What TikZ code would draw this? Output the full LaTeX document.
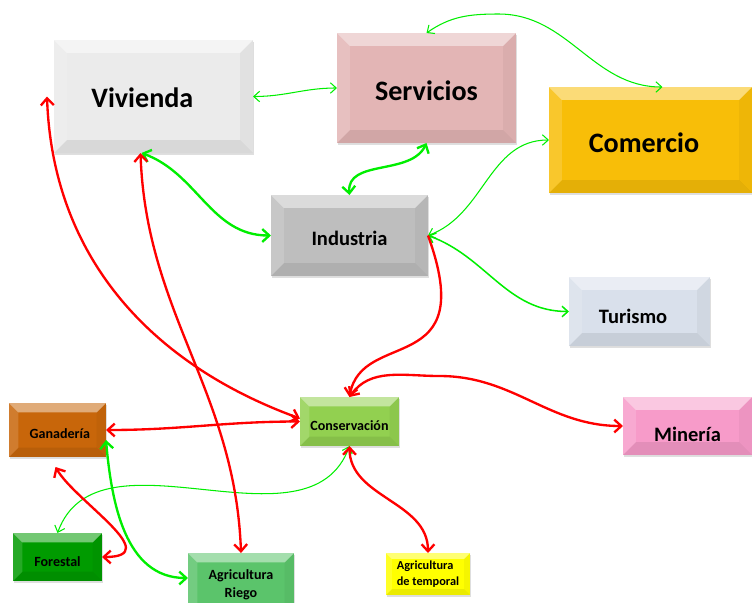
\documentclass[tikz,border=0pt]{standalone}
\usepackage{fontspec}
\setmainfont{Carlito}
\usetikzlibrary{calc, shapes, shadows, positioning, arrows.meta}
\usepackage{xcolor}
\definecolor{vivfill}{HTML}{EBEBEB}
\definecolor{servfill}{HTML}{E3B5B5}
\definecolor{comfill}{HTML}{F8BE08}
\definecolor{indfill}{HTML}{BEBEBE}
\definecolor{turfill}{HTML}{D9E0EB}
\definecolor{consfill}{HTML}{92D050}
\definecolor{minfill}{HTML}{F79BC9}
\definecolor{ganfill}{HTML}{C8660A}
\definecolor{forfill}{HTML}{009B00}
\definecolor{agrfill}{HTML}{5BC46B}
\definecolor{temfill}{HTML}{FFFF00}
\definecolor{linkgreen}{HTML}{00EE00}
\definecolor{linkred}{HTML}{FF0000}

\begin{document}
\begin{tikzpicture}[x=0.03cm, y=0.03cm, bevel/.initial=11pt,
		box/.style={rectangle, fill=#1, inner sep=1pt, outer sep=0pt, text=black, text depth=0pt,
			drop shadow={shadow xshift=1.2pt, shadow yshift=-1.8pt, opacity=.25},
			path picture={
				\def\bv{\pgfkeysvalueof{/tikz/bevel}}
				\path (path picture bounding box.north west) coordinate (bnw)
					(path picture bounding box.south east) coordinate (bse);
				\path (bnw) ++(\bv,-\bv) coordinate (inw) (bse) ++(-\bv,\bv) coordinate (ise);
				\fill[white, opacity=.45] (bnw) -- (bse |- bnw) -- (ise |- inw) -- (inw) -- cycle;
				\fill[white, opacity=.15] (bnw) -- (inw) -- (inw |- ise) -- (bnw |- bse) -- cycle;
				\fill[black, opacity=.08] (bnw |- bse) -- (inw |- ise) -- (ise) -- (bse) -- cycle;
				\fill[black, opacity=.04] (bse |- bnw) -- (ise |- inw) -- (ise) -- (bse) -- cycle;
			}},
		sz/.style 2 args={minimum width=#1*0.03cm, minimum height=#2*0.03cm},
		big/.style={font=\bfseries\fontsize{24}{28}\selectfont},
		mid/.style={font=\bfseries\fontsize{17.5}{21}\selectfont},
		small/.style={font=\bfseries\fontsize{12}{16}\selectfont, bevel=8pt},
		tiny/.style={font=\bfseries\fontsize{10.5}{13.5}\selectfont, bevel=5pt},
		gthin/.style={draw=linkgreen, line width=.9pt, >={Straight Barb[length=5pt,width=9pt]}, <->},
		gthick/.style={draw=linkgreen, line width=2pt, >={Straight Barb[length=6pt,width=11pt]}, <->},
		rthick/.style={draw=linkred, line width=2pt, >={Straight Barb[length=6pt,width=11pt]}, <->}]
	\useasboundingbox (0,0) rectangle (752,-602);
	
	\coordinate (cviv) at (153.5,-96.5);
	\coordinate (cserv) at (426.5,-88);
	\coordinate (ccom) at (650.5,-140);
	\coordinate (cind) at (349.5,-235.5);
	\coordinate (ctur) at (639.5,-311.5);
	\coordinate (ccons) at (349.5,-421.5);
	\coordinate (cmin) at (687.5,-426);
	\coordinate (cgan) at (57.5,-430);
	\coordinate (cfor) at (57.5,-557);
	\coordinate (cagr) at (241,-585);
	\coordinate (ctem) at (428,-574);
	
	\node[box=vivfill, sz={199}{113}, big, text height=18pt] (viv) at (cviv) {Vivienda\hspace*{19pt}};
	\node[box=servfill, sz={179}{110}, big, text height=22pt] (serv) at (cserv) {Servicios};
	\node[box=comfill, sz={203}{106}, big, text height=22pt] (com) at (ccom) {Comercio\hspace*{11pt}};
	\node[box=indfill, sz={157}{81}, mid, text height=17pt] (ind) at (cind) {Industria};
	\node[box=turfill, sz={141}{69}, mid, text height=20pt] (tur) at (ctur) {Turismo\hspace*{11pt}};
	\node[box=consfill, sz={99}{49}, small, text height=16pt] (cons) at (ccons) {Conservación};
	\node[box=minfill, sz={129}{58}, mid, text height=26.5pt] (min) at (cmin) {Minería};
	\node[box=ganfill, sz={97}{54}, small, text height=14.5pt] (gan) at (cgan) {\hspace*{4pt}Ganadería};
	\node[box=forfill, sz={89}{48}, small, text height=16pt] (for) at (cfor) {Forestal};
	\node[box=agrfill, sz={106}{64}, small, font=\bfseries\fontsize{12}{15}\selectfont, align=center, text depth=] (agr) at (cagr) {Agricultura\\Riego};
	\node[box=temfill, sz={84}{42}, tiny, align=left, text depth=] (tem) at (ctem) {Agricultura\\de temporal};
	
	\draw[gthin] (viv.east) to[out=0, in=180] (serv.west);
	\draw[gthin] (serv.north) to[out=35, in=180] ($(serv.north)!.5!(com.north)+(-40,46)$) to[out=0, in=180] ([shift={(12,0)}]com.north);
	\draw[gthick] (serv.south) to[out=-115, in=95] (ind.north);
	\draw[gthick] ([shift={(-12,0)}]viv.south) to[out=-20, in=180] (ind.west);
	\draw[gthin] (ind.east) to[out=20, in=180] (com.west);
	\draw[gthin, line width=1.3pt] (ind.east) to[out=-20, in=180] (tur.west);
	\draw[gthick] ([shift={(0,-10)}]gan.east) to[out=-85, in=180] ([shift={(0,7)}]agr.west);
	\draw[gthin] (cons.south) to[out=-110, in=70] (for.north);
	
	\draw[rthick] ([shift={(-7,0)}]viv.west) to[out=-88, in=160] ([shift={(0,3)}]cons.west);
	\draw[rthick] ([shift={(-13,0)}]viv.south) to[out=-88, in=92] (agr.north);
	\draw[rthick, ->] (ind.east) to[out=-70, in=80, out distance=130, in distance=60] (cons.north);
	\draw[rthick] (cons.north) to[out=55, in=180] ($(cons.north)+(90,21)$) to[out=0, in=180] (min.west);
	\draw[rthick] (gan.east) to[out=0, in=180] (cons.west);
	\draw[rthick] ([shift={(-2,-10)}]gan.south) to[out=-60, in=0, in distance=55] (for.east);
	\draw[rthick] (cons.south) to[out=-90, in=90] (tem.north);
\end{tikzpicture}
\end{document}
